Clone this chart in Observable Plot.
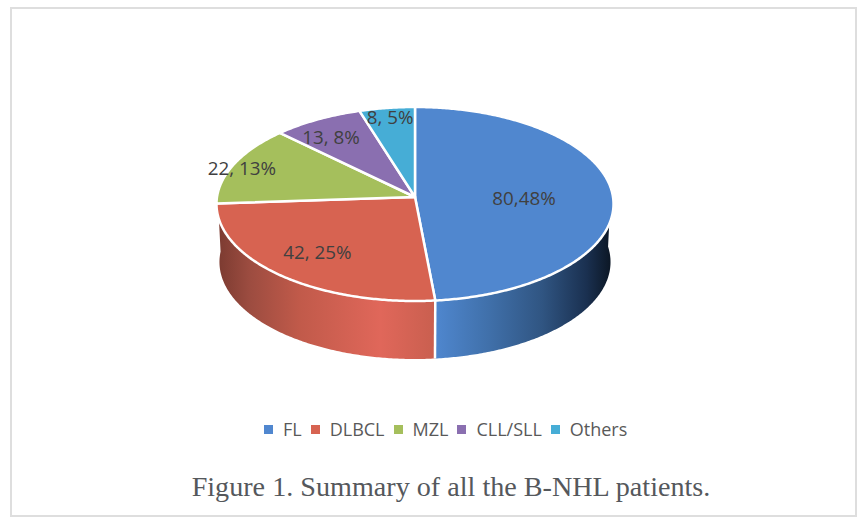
<!DOCTYPE html>
<html>
<head>
<meta charset="utf-8">
<script src="https://cdn.jsdelivr.net/npm/d3@7"></script>
<script src="https://cdn.jsdelivr.net/npm/@observablehq/plot@0.6"></script>
<style>
  html, body { margin: 0; background: #fff; }
  #page { position: relative; width: 865px; height: 527px; overflow: hidden; background: #fff; }
  #frame { position: absolute; left: 10px; top: 7px; width: 843px; height: 506px; border: 2px solid #dedede; }
  #chart { position: absolute; left: 0; top: 0; }
  #legend { position: absolute; left: 264px; top: 417px; display: flex; align-items: center; height: 24px;
            font: 18px "Open Sans", sans-serif; color: #595959; white-space: nowrap; }
  #legend i { display: inline-block; width: 9px; height: 9px; margin-right: 10px; }
  #legend span { margin-right: 9px; }
  #caption { position: absolute; left: 0; width: 902px; top: 471px; text-align: center;
             font: 28.15px "Liberation Serif", serif; color: #55585c; white-space: nowrap; }
</style>
</head>
<body>
<div id="page">
  <div id="frame"></div>
  <div id="chart"></div>
  <div id="legend"></div>
  <div id="caption"></div>
</div>
<script>
// Data
const categories = ["FL", "DLBCL", "MZL", "CLL/SLL", "Others"];
const patients = [80, 42, 22, 13, 8];
const sliceLabels = ["80,48%", "42, 25%", "22, 13%", "13, 8%", "8, 5%"];
const sliceColors = ["#5087cf", "#d76351", "#a5bf5c", "#8a6fb0", "#46add6"];
const captionText = "Figure 1. Summary of all the B-NHL patients.";

// Label placement: share of the radius, and degrees turned from the slice's middle angle
const labelReach = [0.55, 0.73, 0.94, 0.78, 0.88];
const labelTurn = [4.5, 0, -2, -3, 0];

// View of the tilted disc
const perspective = 0.0722, depth = 0.601, bottomShrink = 0.985;
const project = (theta, r = 1, lower = false) => {
  const u = r * Math.sin(theta), v = -r * Math.cos(theta), w = 1 - perspective * v;
  return lower
    ? {x: bottomShrink * u / w, y: v / w + depth}
    : {x: u / w, y: v / w};
};
const arc = (a, b, lower = false) => {
  const n = Math.max(2, Math.ceil(Math.abs(b - a) / 0.01));
  return d3.range(n + 1).map(i => project(a + (b - a) * i / n, 1, lower));
};

const rad = Math.PI / 180;
const pie = d3.pie().sort(null)(patients);
const slices = pie.map((p, i) => ({...p, category: categories[i], label: sliceLabels[i], reach: labelReach[i], turn: labelTurn[i]}));

const tops = slices.flatMap(s => {
  const c = project(0, 0);
  return [c, ...arc(s.startAngle, s.endAngle), c].map(p => ({...p, category: s.category}));
});
const sidePolygon = (a, b) => [...arc(a, b), ...arc(b, a, true)];
const blueSide = sidePolygon(85 * rad, slices[0].endAngle);
const redSide = sidePolygon(slices[1].startAngle, 272 * rad);
const seamTop = project(slices[0].endAngle), seamBottom = project(slices[0].endAngle, 1, true);

const labels = slices.map(s => ({...project((s.startAngle + s.endAngle) / 2 + s.turn * rad, s.reach), label: s.label}));

const gradient = (id, stops) => () => {
  const defs = d3.create("svg:defs");
  const g = defs.append("linearGradient").attr("id", id);
  stops.forEach(([o, c]) => g.append("stop").attr("offset", o).attr("stop-color", c));
  return defs.node();
};

const plot = Plot.plot({
  width: 865, height: 410,
  margin: 0,
  style: {background: "transparent", overflow: "visible"},
  x: {axis: null, domain: [-1, 1], range: [216.5, 612.5]},
  y: {axis: null, domain: [-1, 1], range: [100, 293]},
  color: {domain: categories, range: sliceColors},
  marks: [
    gradient("blueSide", [["0%", "#4f87cf"], ["30%", "#4070aa"], ["60%", "#305582"], ["85%", "#1a3050"], ["100%", "#0a1420"]]),
    gradient("redSide", [["0%", "#7a3a30"], ["15%", "#9c4c40"], ["38%", "#c15a4a"], ["75%", "#e0675a"], ["100%", "#c95f4f"]]),
    Plot.line(blueSide, {x: "x", y: "y", fill: "url(#blueSide)", stroke: "none"}),
    Plot.line(redSide, {x: "x", y: "y", fill: "url(#redSide)", stroke: "none"}),
    Plot.link([{}], {x1: () => seamTop.x, y1: () => seamTop.y, x2: () => seamBottom.x, y2: () => seamBottom.y, stroke: "#fff", strokeWidth: 2.5}),
    Plot.line(tops, {x: "x", y: "y", z: "category", fill: "category", stroke: "#fff", strokeWidth: 2.5, strokeLinejoin: "round"}),
    Plot.text(labels, {x: "x", y: "y", text: "label", fill: "#404040", fontSize: 18.8, fontFamily: "Open Sans, sans-serif"})
  ]
});
document.getElementById("chart").append(plot);

const legend = d3.select("#legend");
categories.forEach((c, i) => {
  legend.append("i").style("background", sliceColors[i]);
  legend.append("span").text(c);
});
document.getElementById("caption").textContent = captionText;
</script>
</body>
</html>
